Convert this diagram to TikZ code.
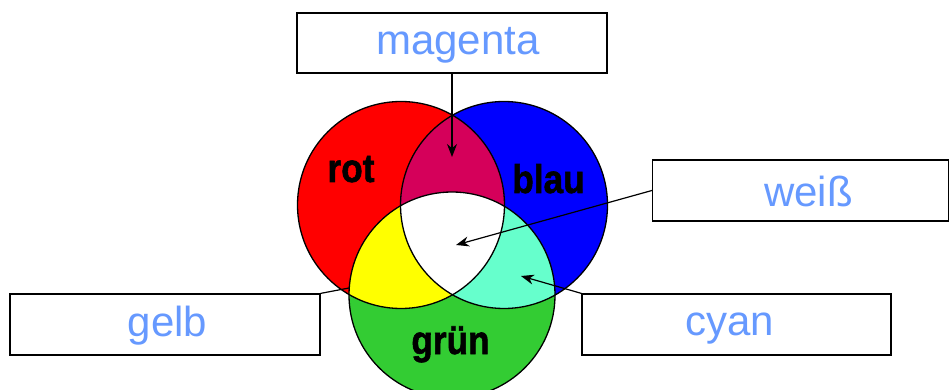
\documentclass[tikz,border=0pt]{standalone}
\usepackage{fontspec}
\setmainfont{Liberation Sans}
\newfontfamily\heavyfont[FakeBold=1.5]{Liberation Sans Bold}
\usetikzlibrary{arrows.meta}
\definecolor{cred}{RGB}{255,0,0}
\definecolor{cblue}{RGB}{0,0,255}
\definecolor{cgreen}{RGB}{51,204,51}
\definecolor{cyel}{RGB}{255,255,0}
\definecolor{cmag}{RGB}{213,0,90}
\definecolor{ccyan}{RGB}{102,255,204}
\definecolor{ctext}{RGB}{102,153,255}
\newcommand{\circlabel}[1]{\scalebox{0.88}[1]{#1}}
\begin{document}
\begin{tikzpicture}[x=1pt,y=-1pt,
  box/.style={draw=black, line width=1.2pt, fill=white, inner sep=0pt, minimum height=61pt},
  lbl/.style={text=ctext, font=\fontsize{42}{50}\selectfont, anchor=base, inner sep=0pt},
  clbl/.style={text=black, font=\fontsize{40}{46}\selectfont\heavyfont, anchor=base, inner sep=0pt},
  arr/.style={draw=black, line width=1.2pt, -{Stealth[length=13pt,width=10pt]}},
  conn/.style={draw=black, line width=1.2pt},
  ring/.style={draw=black, line width=1.3pt}]
\useasboundingbox (0,0) rectangle (950,390);
% circle centres
\coordinate (R) at (401,205);
\coordinate (B) at (504,205);
\coordinate (G) at (452,295);
% fills
\fill[cred] (R) circle[radius=103.5pt];
\fill[cblue] (B) circle[radius=103.5pt];
\fill[cgreen] (G) circle[radius=103pt];
\begin{scope}\clip (R) circle[radius=103.5pt]; \fill[cmag] (B) circle[radius=103.5pt];\end{scope}
\begin{scope}\clip (R) circle[radius=103.5pt]; \fill[cyel] (G) circle[radius=103pt];\end{scope}
\begin{scope}\clip (B) circle[radius=103.5pt]; \fill[ccyan] (G) circle[radius=103pt];\end{scope}
\begin{scope}\clip (R) circle[radius=103.5pt]; \clip (B) circle[radius=103.5pt]; \fill[white] (G) circle[radius=103pt];\end{scope}
% outlines
\draw[ring] (R) circle[radius=103.5pt];
\draw[ring] (B) circle[radius=103.5pt];
\draw[ring] (G) circle[radius=103pt];
% circle labels
\node[clbl] (rot) at (351,182) {\circlabel{rot}};
\node[clbl] (blau) at (548.5,193) {\circlabel{blau}};
\node[clbl] (gruen) at (450.5,354) {\circlabel{grün}};
% boxes
\node[box, minimum width=310pt, minimum height=60pt] (bmag) at (452,43) {};
\node[box, minimum width=296pt] (bweiss) at (800.5,190.5) {};
\node[box, minimum width=310pt] (bgelb) at (165,324.5) {};
\node[box, minimum width=309pt] (bcyan) at (736.5,324.5) {};
\node[lbl] (tmag) at (458,55) {magenta};
\node[lbl] (tweiss) at (808.5,206.5) {weiß};
\node[lbl] (tgelb) at (167.5,336.5) {gelb};
\node[lbl] (tcyan) at (729.5,335) {cyan};
% connector ends
\coordinate (pmag) at (452,157);
\coordinate (pweiss) at (456,245);
\coordinate (pcyan) at (521,276);
\coordinate (pgelb) at (349,288);
\draw[arr] (bmag.south) -- (pmag);
\draw[arr] (bweiss.west) -- (pweiss);
\draw[arr] (bcyan.north west) -- (pcyan);
\draw[conn] (bgelb.north east) -- (pgelb);
\end{tikzpicture}
\end{document}
